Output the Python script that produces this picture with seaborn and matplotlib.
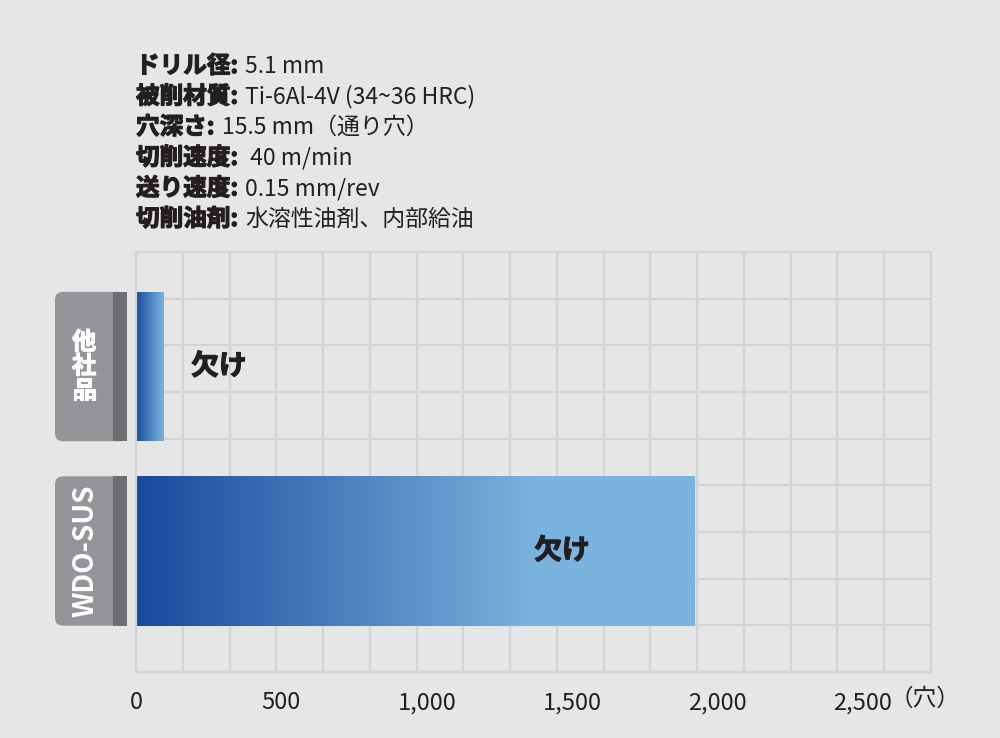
import numpy as np
import matplotlib
matplotlib.use("Agg")
import matplotlib.pyplot as plt
import matplotlib.patheffects as pe
import seaborn as sns
from matplotlib.colors import LinearSegmentedColormap
from matplotlib.patches import FancyBboxPatch, Rectangle

# ---- data ----
categories = ["他社品", "WDO-SUS"]
holes = [95, 1920]
end_notes = ["欠け", "欠け"]
note_x = [285, 1465]
x_ticks = [0, 500, 1000, 1500, 2000, 2500]
x_tick_labels = ["0", "500", "1,000", "1,500", "2,000", "2,500"]
x_unit = "（穴）"

cond_labels = ["ドリル径:", "被削材質:", "穴深さ:", "切削速度:", "送り速度:", "切削油剤:"]
cond_values = ["5.1 mm", "Ti-6Al-4V (34~36 HRC)", "15.5 mm（通り穴）",
               " 40 m/min", "0.15 mm/rev", "水溶性油剤、内部給油"]

# ---- style ----
BG = "#e6e6e6"
GRID = "#d3d3d3"
TEXT = "#231f20"
BOX = "#939598"
STRIP = "#6d6e71"
DARK = "#174a9d"
LIGHT = "#7ab4de"

sns.set_theme(style="white")
plt.rcParams["font.family"] = ["Noto Sans CJK JP", "DejaVu Sans"]

# thicker strokes to get closer to the black weight of the original
heavy = [pe.withStroke(linewidth=0.9, foreground=TEXT)]
heavy_w = [pe.withStroke(linewidth=0.8, foreground="white")]

fig = plt.figure(figsize=(10, 7.38), dpi=100, facecolor=BG)
ax = fig.add_axes([0.136, 1 - 672 / 738, 0.795, 420 / 738])
ax.set_facecolor(BG)

sns.barplot(x=holes, y=categories, orient="h", width=0.81, ax=ax,
            color=DARK, saturation=1)

XMAX = 2734
Y_TOP, Y_BOT = -0.621, 1.656

# --- gradient fill clipped to each bar ---
grad = np.linspace(0, 1, 256).reshape(1, -1)
cmaps = [
    LinearSegmentedColormap.from_list("g0", [DARK, LIGHT]),
    LinearSegmentedColormap.from_list("g1", [(0, DARK), (0.72, LIGHT), (1, LIGHT)]),
]
bar_h = []
for patch, cmap in zip(ax.patches, cmaps):
    x0, y0 = patch.get_x(), patch.get_y()
    w, h = patch.get_width(), patch.get_height()
    bar_h.append(h)
    im = ax.imshow(grad, cmap=cmap, aspect="auto",
                   extent=(x0, x0 + w, y0 + h, y0), zorder=2)
    im.set_clip_path(patch)
    patch.set_facecolor("none")
    patch.set_edgecolor("none")

ax.set_xlim(0, XMAX)
ax.set_ylim(Y_BOT, Y_TOP)

# --- grid ---
ax.set_axisbelow(True)
ax.set_xticks(np.linspace(0, XMAX, 18), minor=True)
ax.set_yticks(np.linspace(Y_BOT, Y_TOP, 10), minor=True)
ax.set_yticks([])
ax.grid(which="minor", color=GRID, lw=1.6)
ax.grid(which="major", visible=False)
for sp in ax.spines.values():
    sp.set_visible(True)
    sp.set_color(GRID)
    sp.set_linewidth(1.6)
ax.tick_params(which="both", length=0)
ax.set_xlabel("")
ax.set_ylabel("")

ax.set_xticks(x_ticks)
ax.set_xticklabels(x_tick_labels, fontsize=17, color=TEXT)
ax.tick_params(axis="x", pad=14)
ax.annotate(x_unit, xy=(x_ticks[-1], 0), xycoords=("data", "axes fraction"),
            xytext=(19, -11.2), textcoords="offset points",
            ha="left", va="top", fontsize=17, color=TEXT)

# notes
for i, (note, nx) in enumerate(zip(end_notes, note_x)):
    ax.text(nx, i, note, ha="center", va="center", fontsize=20,
            fontweight="bold", color=TEXT, zorder=4, path_effects=heavy)

# --- category tabs on the left ---
lab = fig.add_axes([0.055, 1 - 672 / 738, 0.072, 420 / 738], sharey=ax)
lab.set_xlim(0, 72)
lab.axis("off")
px_per_y = 420 / (Y_BOT - Y_TOP)
for i, cat in enumerate(categories):
    h = bar_h[i]
    lab.add_patch(FancyBboxPatch((0, i - h / 2), 72, h,
                                 boxstyle="round,pad=0,rounding_size=8",
                                 mutation_aspect=1 / px_per_y,
                                 fc=BOX, ec="none"))
    lab.add_patch(Rectangle((58, i - h / 2), 14, h, fc=STRIP, ec="none"))
    if cat.isascii():
        lab.text(30, i, cat, rotation=90, ha="center", va="center",
                 color="white", fontsize=20, fontweight="bold")
    else:
        lab.text(29, i, "\n".join(cat), ha="center", va="center",
                 color="white", fontsize=17.5, fontweight="bold",
                 linespacing=1.0, path_effects=heavy_w)
ax.set_ylim(Y_BOT, Y_TOP)

# --- cutting conditions header ---
renderer = fig.canvas.get_renderer()
inv = fig.transFigure.inverted()
for i, (lbl, val) in enumerate(zip(cond_labels, cond_values)):
    y = 1 - (73 + 30.6 * i) / 738
    t = fig.text(0.136, y, lbl, fontsize=17, fontweight="bold",
                 va="baseline", color=TEXT, path_effects=heavy)
    bb = t.get_window_extent(renderer)
    x_end = inv.transform((bb.x1, bb.y0))[0]
    fig.text(x_end + 0.007, y, val, fontsize=16.5, va="baseline", color=TEXT)

fig.savefig("out.png", dpi=100, facecolor=BG)
